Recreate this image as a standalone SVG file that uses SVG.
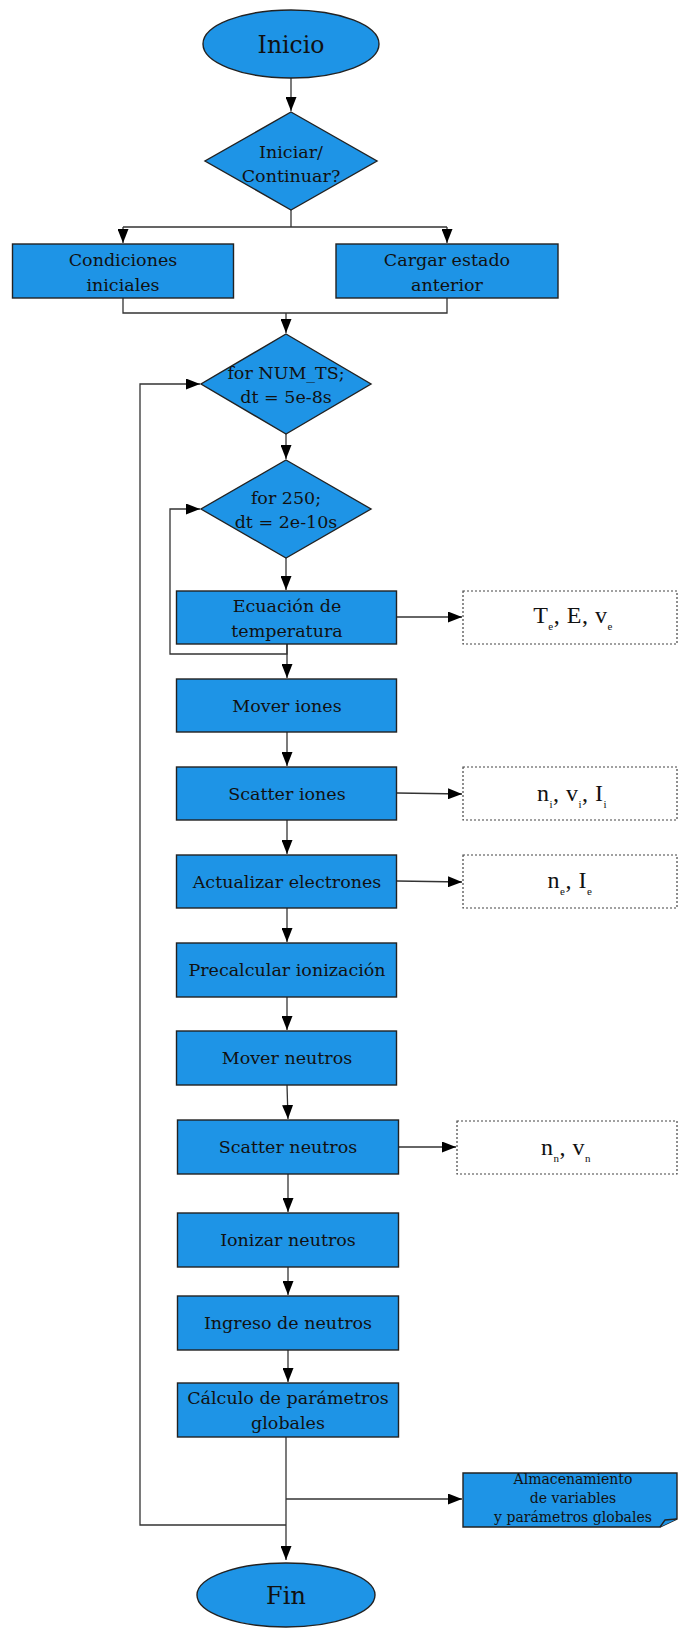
<svg xmlns="http://www.w3.org/2000/svg" width="678" height="1628" viewBox="0 0 678 1628">
<style>
.n{fill:#1e94e6;stroke:#222;stroke-width:1.4}
.d{fill:#fff;stroke:#444;stroke-width:1.2;stroke-dasharray:2 2}
.c{fill:none;stroke:#333;stroke-width:1.3}
.t{font-family:"DejaVu Serif",serif;font-size:17.5px;fill:#111;text-anchor:middle}
.s{font-family:"Liberation Serif","DejaVu Serif",serif;font-size:24px;fill:#111;text-anchor:middle;letter-spacing:0.5px}
</style>
<defs>
<marker id="a" markerUnits="userSpaceOnUse" markerWidth="14" markerHeight="11" refX="14" refY="5.5" orient="auto"><path d="M0,0 L14,5.5 L0,11 Z" fill="#000"/></marker>
</defs>
<rect width="678" height="1628" fill="#fff"/>
<g id="connectors">
<path class="c" d="M291,78 V111" marker-end="url(#a)"/>
<path class="c" d="M291,210 V227 M123,227 H447"/>
<path class="c" d="M123,227 V243" marker-end="url(#a)"/>
<path class="c" d="M447,227 V243" marker-end="url(#a)"/>
<path class="c" d="M123,298 V313 H447 V298"/>
<path class="c" d="M286,313 V333" marker-end="url(#a)"/>
<path class="c" d="M286,434 V459" marker-end="url(#a)"/>
<path class="c" d="M286,558 V590" marker-end="url(#a)"/>
<path class="c" d="M287,644 V654 H170 V509 H200" marker-end="url(#a)"/>
<path class="c" d="M287,644 V678" marker-end="url(#a)"/>
<path class="c" d="M287,732 V766" marker-end="url(#a)"/>
<path class="c" d="M287,820 V854" marker-end="url(#a)"/>
<path class="c" d="M287,908 V942" marker-end="url(#a)"/>
<path class="c" d="M287,997 V1030" marker-end="url(#a)"/>
<path class="c" d="M287,1085 L288,1119" marker-end="url(#a)"/>
<path class="c" d="M288,1174 V1212" marker-end="url(#a)"/>
<path class="c" d="M288,1267 V1295" marker-end="url(#a)"/>
<path class="c" d="M288,1350 V1382" marker-end="url(#a)"/>
<path class="c" d="M286,1437 V1560" marker-end="url(#a)"/>
<path class="c" d="M286,1499 H462" marker-end="url(#a)"/>
<path class="c" d="M286,1525 H140 V384 H200" marker-end="url(#a)"/>
<path class="c" d="M397,617 H462" marker-end="url(#a)"/>
<path class="c" d="M397,793 L462,794" marker-end="url(#a)"/>
<path class="c" d="M397,881 L462,882" marker-end="url(#a)"/>
<path class="c" d="M399,1147 H456" marker-end="url(#a)"/>
</g>
<g id="inicio"><ellipse class="n" cx="291" cy="44" rx="88" ry="34"/><text class="t" style="font-size:23.5px" x="291" y="53">Inicio</text></g>
<g id="iniciar"><polygon class="n" points="291,112 377,161 291,210 205,161"/><text class="t" x="291" y="158">Iniciar/</text><text class="t" x="291" y="182">Continuar?</text></g>
<g id="condiciones"><rect class="n" x="12.5" y="244" width="221" height="54"/><text class="t" x="123" y="266">Condiciones</text><text class="t" x="123" y="291">iniciales</text></g>
<g id="cargar"><rect class="n" x="336" y="244" width="222" height="54"/><text class="t" x="447" y="266">Cargar estado</text><text class="t" x="447" y="291">anterior</text></g>
<g id="for_num_ts"><polygon class="n" points="286,334 371,384 286,434 201,384"/><text class="t" x="286" y="379">for NUM_TS;</text><text class="t" x="286" y="403">dt = 5e-8s</text></g>
<g id="for_250"><polygon class="n" points="286,460 371,509 286,558 201,509"/><text class="t" x="286" y="504">for 250;</text><text class="t" x="286" y="528">dt = 2e-10s</text></g>
<g id="ecuacion"><rect class="n" x="176.5" y="591" width="220" height="53"/><text class="t" x="287" y="612">Ecuación de</text><text class="t" x="287" y="637">temperatura</text></g>
<g id="mover_iones"><rect class="n" x="176.5" y="679" width="220" height="53"/><text class="t" x="287" y="712">Mover iones</text></g>
<g id="scatter_iones"><rect class="n" x="176.5" y="767" width="220" height="53"/><text class="t" x="287" y="800">Scatter iones</text></g>
<g id="actualizar"><rect class="n" x="176.5" y="855" width="220" height="53"/><text class="t" x="287" y="888">Actualizar electrones</text></g>
<g id="precalcular"><rect class="n" x="176.5" y="943" width="220" height="54"/><text class="t" x="287" y="976">Precalcular ionización</text></g>
<g id="mover_neutros"><rect class="n" x="176.5" y="1031" width="220" height="54"/><text class="t" x="287" y="1064">Mover neutros</text></g>
<g id="scatter_neutros"><rect class="n" x="177.5" y="1120" width="221" height="54"/><text class="t" x="288" y="1153">Scatter neutros</text></g>
<g id="ionizar"><rect class="n" x="177.5" y="1213" width="221" height="54"/><text class="t" x="288" y="1246">Ionizar neutros</text></g>
<g id="ingreso"><rect class="n" x="177.5" y="1296" width="221" height="54"/><text class="t" x="288" y="1329">Ingreso de neutros</text></g>
<g id="calculo"><rect class="n" x="177.5" y="1383" width="221" height="54"/><text class="t" x="288" y="1404">Cálculo de parámetros</text><text class="t" x="288" y="1429">globales</text></g>
<g id="fin"><ellipse class="n" cx="286" cy="1595" rx="89" ry="32"/><text class="t" style="font-size:24px" x="286" y="1604">Fin</text></g>
<g id="out_te"><rect class="d" x="463" y="591" width="214" height="53"/><text class="s" x="573" y="623">T<tspan font-size="11" dy="7">e</tspan><tspan dy="-7">, E, v</tspan><tspan font-size="11" dy="7">e</tspan></text></g>
<g id="out_ni"><rect class="d" x="463" y="767" width="214" height="53"/><text class="s" x="572" y="801">n<tspan font-size="11" dy="7">i</tspan><tspan dy="-7">, v</tspan><tspan font-size="11" dy="7">i</tspan><tspan dy="-7">, I</tspan><tspan font-size="11" dy="7">i</tspan></text></g>
<g id="out_ne"><rect class="d" x="463" y="855" width="214" height="53"/><text class="s" x="570" y="888">n<tspan font-size="11" dy="7">e</tspan><tspan dy="-7">, I</tspan><tspan font-size="11" dy="7">e</tspan></text></g>
<g id="out_nn"><rect class="d" x="457" y="1121" width="220" height="53"/><text class="s" x="566" y="1155">n<tspan font-size="11" dy="7">n</tspan><tspan dy="-7">, v</tspan><tspan font-size="11" dy="7">n</tspan></text></g>
<g id="almacenamiento"><path class="n" d="M463,1473 H677 V1519 L660,1527 H463 Z"/><path class="n" d="M660,1527 L665,1520 L677,1519"/><text class="t" style="font-size:14px" x="573" y="1484">Almacenamiento</text><text class="t" style="font-size:14px" x="573" y="1503">de variables</text><text class="t" style="font-size:14px" x="573" y="1522">y parámetros globales</text></g>
</svg>
